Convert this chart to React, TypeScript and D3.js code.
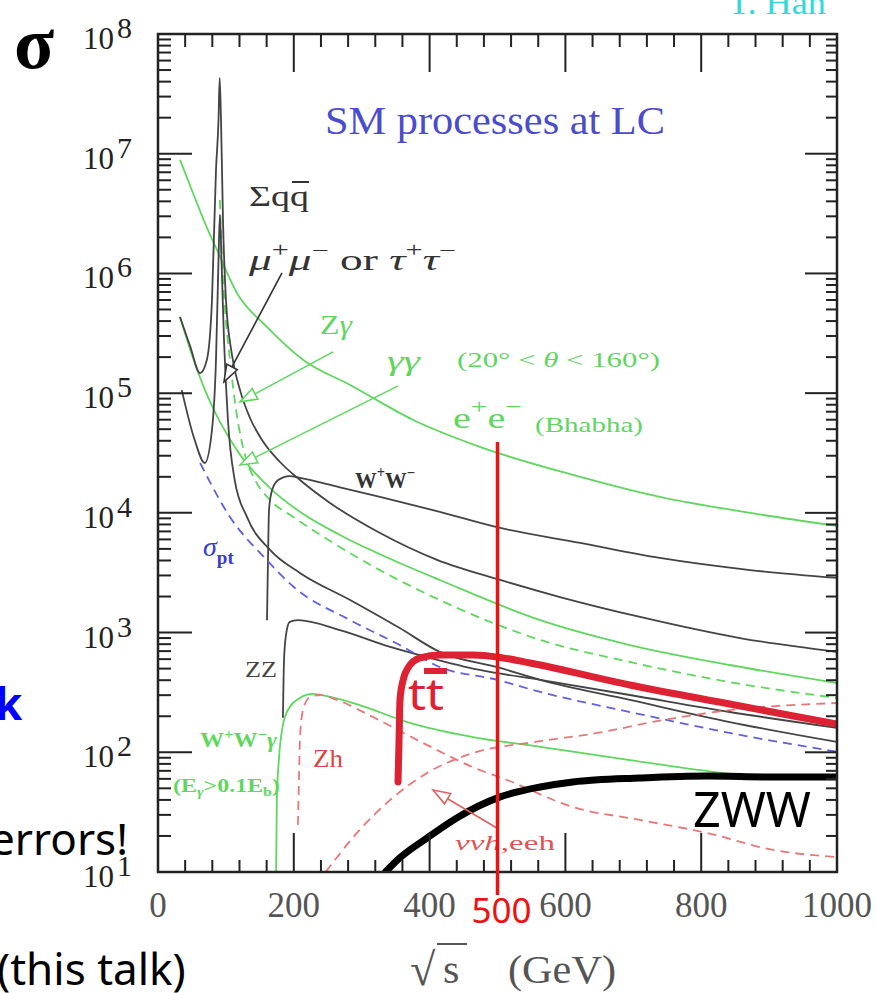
import React from "react";
import * as d3 from "d3";

type Pt = [number, number];

// sqrt(s) in GeV, cross section sigma in fb
const sigmaPt: Pt[] = [[62, 26100], [106, 9250], [160, 4050], [200, 2400], [283, 1270], [356, 787], [415, 516], [500, 402], [563, 319], [695, 217], [842, 145], [1000, 101]];
const qqbar: Pt[] = [[32.4, 433000], [47, 250000], [62, 147000], [72, 190000], [79.5, 600000], [85.4, 7300000], [89.1, 19000000], [90.8, 43000000], [92.8, 19000000], [95.7, 2800000], [100.1, 600000], [109, 208000], [120.8, 106000], [135.5, 62000], [153.2, 40600], [179.7, 26600], [209.1, 18800], [253.3, 12100], [327, 6790], [411, 4050], [504, 2750], [592, 1980], [710, 1350], [857, 900], [1000, 690]];
const muMu: Pt[] = [[35, 106000], [54, 40600], [69, 26100], [79.5, 49300], [85.4, 189000], [89.1, 1300000], [91.2, 3090000], [93.5, 1300000], [97.2, 278000], [103, 59700], [113, 18800], [131, 9250], [165, 4900], [209, 3150], [283, 1870], [356, 1090], [415, 689], [504, 506], [563, 402], [695, 274], [842, 179], [1000, 122]];
const wPair: Pt[] = [[160.5, 1270], [162, 4050], [163.5, 10600], [168, 15500], [177, 18800], [194, 20300], [209, 19600], [268, 16300], [327, 13600], [415, 10200], [504, 7480], [622, 5610], [739, 4200], [872, 3330], [1000, 2860]];
const zPair: Pt[] = [[184, 194], [185.6, 590], [188.5, 955], [194, 1230], [206, 1270], [268, 1050], [342, 760], [396, 625], [474, 487], [563, 402], [695, 301], [842, 217], [1000, 160]];
const bhabha: Pt[] = [[32.4, 8870000], [51.5, 4700000], [72.2, 2400000], [86.9, 1570000], [116, 690000], [160.5, 357000], [214, 189000], [283, 117000], [376, 59700], [474, 35600], [622, 20000], [739, 13600], [872, 10000], [1000, 7770]];
const gammaGamma: Pt[] = [[32.4, 434000], [50, 208000], [69.2, 106000], [91.3, 57500], [121, 30500], [165, 16100], [209, 10200], [268, 6530], [356, 3810], [415, 2750], [563, 1270], [695, 787], [842, 536], [1000, 379]];
const zGamma: Pt[] = [[91.2, 4100000], [94.3, 1300000], [98.7, 496000], [106, 189000], [115, 72400], [128, 30500], [143, 18800], [165, 12800], [199, 9250], [258, 5610], [308, 3810], [415, 1870], [563, 867], [695, 568], [842, 386], [1000, 284]];
const wwGamma: Pt[] = [[174, 10], [175, 40], [178, 86], [184, 169], [194, 239], [209, 284], [228, 307], [253, 290], [297, 248], [367, 179], [464, 134], [563, 111], [695, 86], [823, 68], [901, 61]];
const zh: Pt[] = [[206, 24.7], [207.6, 58.7], [209, 127], [213.5, 225], [224, 290], [238.6, 301], [263.6, 274], [316.6, 197], [390, 120], [464, 75], [514, 58.7], [611, 34.9], [710, 27.2], [808.5, 21.2], [906, 15.3], [1000, 13.3]];
const nunuH: Pt[] = [[247, 10], [293, 21.2], [342, 40], [396, 67], [464, 98.6], [555, 122], [647, 145], [744, 186], [842, 225], [1000, 258]];
const ttbar: Pt[] = [[353.5, 56.5], [355, 127], [356.4, 274], [361, 402], [368, 506], [386, 614], [415, 650], [464, 650], [504, 620], [548, 557], [695, 365], [842, 253], [1000, 172]];
const zww: Pt[] = [[335, 10], [356, 13.1], [396, 19.2], [440, 28.3], [504, 42.4], [563, 51.3], [611, 56.5], [710, 61], [808, 63.4], [906, 62.2], [1000, 62.2]];

const xMajor = [0, 200, 400, 600, 800, 1000];
const xTickLabels = ["0", "200", "400", "600", "800", "1000"];
const xMinorStep = 40;
const yDecades = [1, 2, 3, 4, 5, 6, 7, 8];
const markerEnergy = 500;
const markerTopSigma = 39000;

// annotation arrows [from, tip] in data units
const arrowMuMu: [Pt, Pt] = [[182.6, 1010000], [97.2, 124000]];
const arrowZGamma: [Pt, Pt] = [[257.7, 221000], [120.8, 84500]];
const arrowGammaGamma: [Pt, Pt] = [[353.5, 115000], [120.8, 25100]];
const arrowNuNuH: [Pt, Pt] = [[499, 23.3], [405, 48.4]];

const GREEN = "rgb(95,215,95)";
const BLACK = "#444";
const BLUE = "#6060e0";
const REDD = "#e87878";

const thinSeries = [
  { data: bhabha, color: GREEN, dash: "" },
  { data: gammaGamma, color: GREEN, dash: "" },
  { data: zGamma, color: GREEN, dash: "9 6" },
  { data: wwGamma, color: GREEN, dash: "" },
  { data: qqbar, color: BLACK, dash: "" },
  { data: muMu, color: BLACK, dash: "" },
  { data: wPair, color: BLACK, dash: "" },
  { data: zPair, color: BLACK, dash: "" },
  { data: sigmaPt, color: BLUE, dash: "9 6" },
  { data: zh, color: REDD, dash: "9 6" },
  { data: nunuH, color: REDD, dash: "9 6" },
];

export default function App() {
  const L = 158, R = 837, T = 34, B = 872;
  const x = d3.scaleLinear().domain([0, 1000]).range([L, R]);
  const y = d3.scaleLog().domain([10, 1e8]).range([B, T]);
  const line = d3
    .line<Pt>()
    .x((d) => x(d[0]))
    .y((d) => y(d[1]))
    .curve(d3.curveMonotoneX);

  const yMinor: number[] = [];
  yDecades.slice(0, -1).forEach((k) => {
    for (let m = 2; m <= 9; m++) yMinor.push(m * Math.pow(10, k));
  });
  const xMinor: number[] = [];
  for (let v = xMinorStep; v < 1000; v += xMinorStep) if (v % 200 !== 0) xMinor.push(v);

  const arrow = (a: [Pt, Pt], color: string, key: string) => {
    const x0 = x(a[0][0]), y0 = y(a[0][1]), x1 = x(a[1][0]), y1 = y(a[1][1]);
    const dx = x1 - x0, dy = y1 - y0, len = Math.hypot(dx, dy);
    const ux = dx / len, uy = dy / len, nx = -uy, ny = ux;
    const hl = 17, hw = 6;
    const bx = x1 - ux * hl, by = y1 - uy * hl;
    return (
      <g key={key} stroke={color} strokeWidth={1.6} fill="none">
        <line x1={x0} y1={y0} x2={bx} y2={by} />
        <polygon points={`${x1},${y1} ${bx + nx * hw},${by + ny * hw} ${bx - nx * hw},${by - ny * hw}`} fill="white" />
      </g>
    );
  };

  const serif = "'Liberation Serif', 'DejaVu Serif', serif";
  const sans = "'Noto Sans', 'Open Sans', sans-serif";

  return (
    <svg width={876} height={993} style={{ position: "absolute", left: 0, top: 0, background: "#fff" }} xmlns="http://www.w3.org/2000/svg">
      <defs>
        <clipPath id="plot">
          <rect x={L} y={T} width={R - L} height={B - T} />
        </clipPath>
      </defs>
      <rect width={876} height={993} fill="#fff" />

      {/* slide text fragments */}
      <text x={14} y={68} fontFamily={serif} fontWeight="bold" fontSize={74} fill="#000">σ</text>
      <text x={-5} y={720} fontFamily={sans} fontWeight="bold" fontSize={44} fill="#0000ff">k</text>
      <text x={-10} y={855} fontFamily={sans} fontSize={44} fill="#000">errors!</text>
      <text x={-3} y={985} fontFamily={sans} fontSize={44} fill="#000">(this talk)</text>
      <text x={728} y={14} fontFamily={serif} fontSize={34} fill="#33d8d8" textLength={98} lengthAdjust="spacingAndGlyphs">T. Han</text>

      {/* curves */}
      <g clipPath="url(#plot)" fill="none">
        {thinSeries.map((s, i) => (
          <path key={i} d={line(s.data) || ""} stroke={s.color} strokeWidth={1.8} strokeDasharray={s.dash || undefined} />
        ))}
        <path d={line(zww) || ""} stroke="#000" strokeWidth={7} strokeLinecap="round" />
        <path d={line(ttbar) || ""} stroke="#dd2233" strokeWidth={7} strokeLinecap="round" />
      </g>

      {/* frame and ticks */}
      <g stroke="#222" strokeWidth={2}>
        {yDecades.map((k) => {
          const v = Math.pow(10, k);
          return (
            <g key={"ym" + k}>
              <line x1={L} x2={L + 34} y1={y(v)} y2={y(v)} />
              <line x1={R} x2={R - 32} y1={y(v)} y2={y(v)} />
            </g>
          );
        })}
        {yMinor.map((v, i) => (
          <g key={"yn" + i}>
            <line x1={L} x2={L + 13} y1={y(v)} y2={y(v)} />
            <line x1={R} x2={R - 11} y1={y(v)} y2={y(v)} />
          </g>
        ))}
        {xMajor.slice(1, -1).map((v) => (
          <g key={"xm" + v}>
            <line x1={x(v)} x2={x(v)} y1={T} y2={T + 38} />
            <line x1={x(v)} x2={x(v)} y1={B} y2={B - 39} />
          </g>
        ))}
        {xMinor.map((v) => (
          <g key={"xn" + v}>
            <line x1={x(v)} x2={x(v)} y1={T} y2={T + 13} />
            <line x1={x(v)} x2={x(v)} y1={B} y2={B - 12} />
          </g>
        ))}
        <rect x={L} y={T} width={R - L} height={B - T} fill="none" strokeWidth={2.5} />
      </g>

      {/* y tick labels */}
      {yDecades.map((k) => (
        <text key={"yl" + k} x={83} y={y(Math.pow(10, k)) + 15} fontFamily={serif} fontSize={31} fill="#222">
          10<tspan dx={3} dy={-11} fontSize={30}>{k}</tspan>
        </text>
      ))}
      {/* x tick labels */}
      {xMajor.map((v, i) => (
        <text key={"xl" + v} x={x(v)} y={917} textAnchor="middle" fontFamily={serif} fontSize={35} fill="#555">
          {xTickLabels[i]}
        </text>
      ))}
      {/* x axis title */}
      <text x={410} y={985} fontFamily={serif} fontSize={46} fill="#555">√</text>
      <line x1={437} x2={467} y1={944} y2={944} stroke="#555" strokeWidth={2} />
      <text x={443} y={983} fontFamily={serif} fontSize={42} fill="#555">s</text>
      <text x={508} y={983} fontFamily={serif} fontSize={41} fill="#555" textLength={108} lengthAdjust="spacingAndGlyphs">(GeV)</text>

      {/* title */}
      <text x={325} y={134} fontFamily={serif} fontSize={40} fill="rgb(75,75,205)" textLength={340} lengthAdjust="spacingAndGlyphs">SM processes at LC</text>

      {/* annotations */}
      <text x={249} y={206} fontFamily={serif} fontSize={30} fill="#333" textLength={60} lengthAdjust="spacingAndGlyphs">Σqq</text>
      <line x1={292} x2={309} y1={182} y2={182} stroke="#333" strokeWidth={2} />
      <text x={249} y={270} fontFamily={serif} fontSize={30} fill="#333" textLength={207} lengthAdjust="spacingAndGlyphs">
        <tspan fontStyle="italic">μ</tspan>
        <tspan dy={-13} fontSize={20}>+</tspan>
        <tspan dy={13} fontStyle="italic">μ</tspan>
        <tspan dy={-13} fontSize={20}>−</tspan>
        <tspan dy={13}> or </tspan>
        <tspan fontStyle="italic">τ</tspan>
        <tspan dy={-13} fontSize={20}>+</tspan>
        <tspan dy={13} fontStyle="italic">τ</tspan>
        <tspan dy={-13} fontSize={20}>−</tspan>
      </text>
      <text x={320} y={334} fontFamily={serif} fontSize={28} fill={GREEN} textLength={32} lengthAdjust="spacingAndGlyphs">
        Z<tspan fontStyle="italic">γ</tspan>
      </text>
      <text x={387} y={370} fontFamily={serif} fontSize={28} fill={GREEN} fontStyle="italic" textLength={33} lengthAdjust="spacingAndGlyphs">γγ</text>
      <text x={457} y={367} fontFamily={serif} fontSize={22} fill={GREEN} textLength={203} lengthAdjust="spacingAndGlyphs">
        (20° &lt; <tspan fontStyle="italic">θ</tspan> &lt; 160°)
      </text>
      <text x={453} y={428} fontFamily={serif} fontSize={30} fill={GREEN} textLength={69} lengthAdjust="spacingAndGlyphs">
        e<tspan dy={-14} fontSize={22}>+</tspan>
        <tspan dy={14}>e</tspan>
        <tspan dy={-14} fontSize={22}>−</tspan>
      </text>
      <text x={535} y={432} fontFamily={serif} fontSize={22} fill={GREEN} textLength={108} lengthAdjust="spacingAndGlyphs">(Bhabha)</text>
      <text x={355} y={488} fontFamily={serif} fontSize={24} fill="#333" fontWeight="bold" textLength={60} lengthAdjust="spacingAndGlyphs">
        W<tspan dy={-10} fontSize={16}>+</tspan>
        <tspan dy={10}>W</tspan>
        <tspan dy={-10} fontSize={16}>−</tspan>
      </text>
      <text x={203} y={556} fontFamily={serif} fontSize={28} fill="#3a3ad8">
        <tspan fontStyle="italic">σ</tspan>
        <tspan dy={8} fontSize={19} fontWeight="bold">pt</tspan>
      </text>
      <text x={245} y={677} fontFamily={serif} fontSize={24} fill="#444" textLength={32} lengthAdjust="spacingAndGlyphs">ZZ</text>
      <text x={200} y={747} fontFamily={serif} fontSize={20} fill={GREEN} fontWeight="bold" textLength={77} lengthAdjust="spacingAndGlyphs">
        W<tspan dy={-8} fontSize={14}>+</tspan>
        <tspan dy={8}>W</tspan>
        <tspan dy={-8} fontSize={14}>−</tspan>
        <tspan dy={8} fontStyle="italic">γ</tspan>
      </text>
      <text x={173} y={792} fontFamily={serif} fontSize={18} fill={GREEN} fontWeight="bold" textLength={107} lengthAdjust="spacingAndGlyphs">
        (E<tspan dy={4} fontSize={12} fontStyle="italic">γ</tspan>
        <tspan dy={-4}>&gt;0.1E</tspan>
        <tspan dy={4} fontSize={12}>b</tspan>
        <tspan dy={-4}>)</tspan>
      </text>
      <text x={313} y={767} fontFamily={serif} fontSize={25} fill="#dd4444" textLength={30} lengthAdjust="spacingAndGlyphs">Zh</text>
      <text x={455} y={850} fontFamily={serif} fontSize={22} fill="#dd5555" textLength={100} lengthAdjust="spacingAndGlyphs">
        <tspan fontStyle="italic">ννh</tspan>,eeh
      </text>

      {arrow(arrowMuMu, "#333", "a1")}
      {arrow(arrowZGamma, GREEN, "a2")}
      {arrow(arrowGammaGamma, GREEN, "a3")}
      {arrow(arrowNuNuH, "#e06060", "a4")}

      {/* overlay labels */}
      <text x={408} y={710} fontFamily={sans} fontSize={44} fill="#dd2233" textLength={36} lengthAdjust="spacingAndGlyphs">tt</text>
      <line x1={424} x2={447} y1={671} y2={671} stroke="#dd2233" strokeWidth={6} />
      <text x={693} y={827} fontFamily={sans} fontSize={50} fill="#000" textLength={118} lengthAdjust="spacingAndGlyphs">ZWW</text>

      {/* 500 GeV marker */}
      <line x1={x(markerEnergy)} x2={x(markerEnergy)} y1={y(markerTopSigma)} y2={895} stroke="#ee1111" strokeWidth={3.5} />
      <text x={x(markerEnergy) + 4} y={923} textAnchor="middle" fontFamily={sans} fontSize={35} fill="#ee1111">500</text>
    </svg>
  );
}
